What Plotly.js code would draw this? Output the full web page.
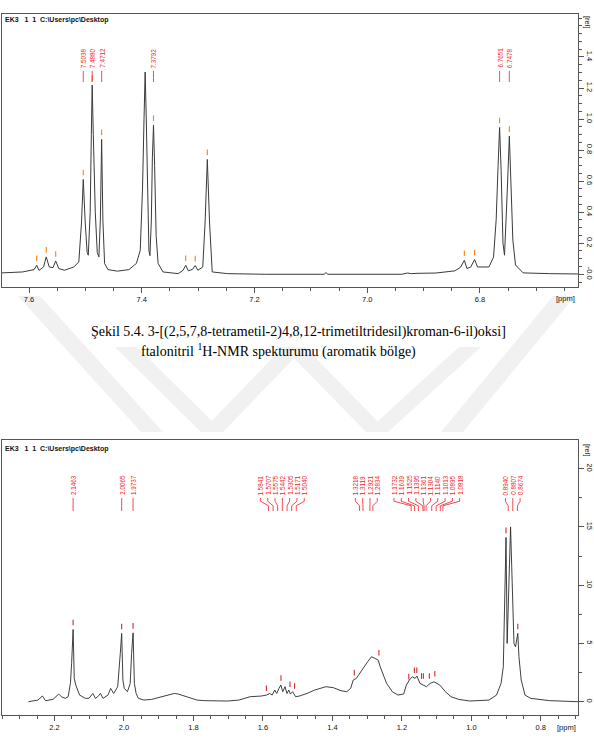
<!DOCTYPE html>
<html><head><meta charset="utf-8">
<script src="https://cdn.plot.ly/plotly-3.0.1.min.js"></script>
<style>html,body{margin:0;padding:0;background:#fff}#chart{width:594px;height:740px}</style>
</head><body><div id="chart"></div>
<script>
// ---------- DATA: aromatic region (top spectrum) ----------
const aromPpm = [7.6482,7.6112,7.5911,7.5864,7.5823,7.5743,7.5695,7.5642,7.5574,7.5527,7.5473,7.5373,7.5204,7.5117,7.5070,7.5038,7.5003,7.4969,7.4949,7.4915,7.4895,7.4880,7.4860,7.4825,7.4790,7.4761,7.4735,7.4712,7.4690,7.4660,7.4600,7.4431,7.4229,7.4095,7.4027,7.3987,7.3960,7.3940,7.3920,7.3893,7.3873,7.3855,7.3830,7.3812,7.3792,7.3772,7.3745,7.3710,7.3624,7.3355,7.3267,7.3220,7.3173,7.3099,7.3052,7.3005,7.2918,7.2877,7.2837,7.2797,7.2750,7.2481,7.1808,7.0765,7.0732,7.0698,7.0127,6.9386,6.9286,6.9218,6.9117,6.8782,6.8445,6.8344,6.8277,6.8230,6.8162,6.8095,6.8042,6.7840,6.7759,6.7712,6.7678,6.7651,6.7624,6.7591,6.7564,6.7537,6.7517,6.7478,6.7449,6.7416,6.7369,6.7234,6.6764,6.6259];
const aromInt = [0.009,0.015,0.03,0.058,0.025,0.047,0.112,0.047,0.043,0.086,0.037,0.026,0.047,0.08,0.33,0.611,0.33,0.14,0.123,0.4,0.9,1.219,0.9,0.4,0.14,0.112,0.35,0.869,0.35,0.07,0.03,0.02,0.03,0.07,0.155,0.55,1.0,1.303,1.0,0.4,0.15,0.12,0.35,0.75,0.961,0.7,0.25,0.07,0.015,0.004,0.026,0.058,0.022,0.032,0.056,0.026,0.047,0.33,0.74,0.33,0.015,0.004,0.0,0.0,0.011,0.0,0.0,0.0,0.008,0.004,0.006,0.008,0.022,0.045,0.09,0.037,0.047,0.095,0.047,0.047,0.11,0.35,0.7,0.946,0.67,0.2,0.123,0.33,0.52,0.89,0.55,0.22,0.06,0.009,0.004,0.002];
const aromLabelPpm = [7.5038,7.4880,7.4712,7.3792,6.7651,6.7478];
const aromMarkPpm = [7.5864,7.5695,7.5527,7.5038,7.4880,7.4712,7.3792,7.3220,7.3052,7.2837,6.8277,6.8095,6.7651,6.7478];
const aromMarkInt = [0.058,0.112,0.086,0.611,1.219,0.869,0.961,0.058,0.056,0.74,0.09,0.095,0.946,0.89];
const aromXTicks = [7.6,7.4,7.2,7.0,6.8];
const aromYTicks = [0,0.2,0.4,0.6,0.8,1.0,1.2,1.4];
const aromYTickText = ["-0.0","0.2","0.4","0.6","0.8","1.0","1.2","1.4"];

// ---------- DATA: aliphatic region (bottom spectrum) ----------
const aliPpm = [2.2751,2.2478,2.2347,2.2260,2.2041,2.1878,2.1801,2.1692,2.1605,2.1539,2.1506,2.1463,2.1430,2.1387,2.1277,2.1114,2.1005,2.0896,2.0819,2.0754,2.0677,2.0601,2.0459,2.0383,2.0295,2.0180,2.0105,2.0065,2.0030,1.9990,1.9900,1.9820,1.9780,1.9737,1.9700,1.9650,1.9586,1.9422,1.9204,1.8877,1.8549,1.8440,1.8222,1.7895,1.7676,1.7022,1.6694,1.6367,1.6040,1.5898,1.5800,1.5734,1.5658,1.5603,1.5538,1.5483,1.5429,1.5363,1.5308,1.5254,1.5210,1.5145,1.5058,1.4948,1.4730,1.4512,1.4185,1.3967,1.3748,1.3585,1.3475,1.3399,1.3312,1.3224,1.3115,1.2984,1.2875,1.2766,1.2679,1.2624,1.2548,1.2439,1.2275,1.2111,1.1948,1.1871,1.1784,1.1697,1.1620,1.1566,1.1479,1.1402,1.1293,1.1184,1.1075,1.0907,1.0747,1.0584,1.0365,1.0044,0.9493,0.9275,0.9145,0.9080,0.9034,0.9002,0.8969,0.8942,0.8893,0.8871,0.8838,0.8806,0.8773,0.8729,0.8696,0.8663,0.8630,0.8565,0.8456,0.8292,0.7747,0.6928];
const aliInt = [0,0.14,0.49,0.09,0.2,0.66,0.43,0.29,0.43,1.63,3.29,6.2,2.0,1.43,0.57,0.29,0.29,0.71,0.29,0.43,0.71,0.29,0.57,1.14,0.71,1.29,4.14,5.86,1.86,1.14,0.86,1.57,4.14,5.91,1.57,0.71,0.29,0.14,0.2,0.43,0.71,0.66,0.43,0.14,0.09,0.06,0.14,0.43,0.49,0.57,0.71,0.57,1.0,0.71,1.14,1.43,0.86,1.29,0.71,1.0,0.66,0.86,0.43,0.49,0.71,1.0,1.29,1.2,0.94,0.86,1.14,1.86,2.0,2.43,2.86,3.43,3.86,3.71,3.57,3.0,2.43,1.57,0.86,0.57,0.66,1.43,1.86,2.14,2.0,2.2,1.57,1.43,1.29,1.57,1.71,1.43,0.86,0.43,0.2,0.06,0.14,0.57,1.57,3.0,8.7,14.1,5.0,8.14,14.4,15.0,11.6,7.86,5.0,4.71,5.57,5.86,3.86,1.86,0.57,0.29,0.09,0];
const aliLabelPpm = [2.1463,2.0065,1.9737,1.5841,1.5707,1.5575,1.5442,1.5305,1.5171,1.5040,1.3218,1.3119,1.2921,1.2834,1.1732,1.1639,1.1525,1.1395,1.1361,1.1304,1.1140,1.1013,1.0895,1.0818,0.8940,0.8807,0.8674];
const aliMarkPpm = [2.1463,2.0065,1.9737,1.590,1.548,1.522,1.509,1.337,1.266,1.180,1.164,1.157,1.1435,1.138,1.121,1.105,0.9002,0.8663];
const aliMarkInt = [6.2,5.86,5.91,0.55,1.43,0.9,0.75,1.9,3.6,1.55,2.1,2.1,1.6,1.6,1.6,1.8,14.1,5.86];
const aliXTicks = [2.2,2.0,1.8,1.6,1.4,1.2,1.0,0.8];
const aliYTicks = [0,5,10,15,20];

const headerText = "EK3\u00A0\u00A0 1\u00A0\u00A01\u00A0\u00A0C:\\Users\\pc\\Desktop";
const captionLine1 = "Şekil 5.4. 3-[(2,5,7,8-tetrametil-2)4,8,12-trimetiltridesil)kroman-6-il)oksi]";
const captionLine2 = "ftalonitril <sup>1</sup>H-NMR spekturumu (aromatik bölge)";

// ---------- LAYOUT GEOMETRY ----------
const W = 594, H = 740;
const P1 = {x0:2, x1:578, y0:14, y1:287, xr:[7.648, 6.626], yr:[-0.082, 1.677]};
const P2 = {x0:2, x1:578, y0:440, y1:715, xr:[2.351, 0.693], yr:[-1.14, 22.46]};
const RED = '#ee1c24';
const AX = '#555';

function xToPx(P, v){ return P.x0 + (P.xr[0]-v)/(P.xr[0]-P.xr[1])*(P.x1-P.x0); }
function pxPerY(P){ return (P.y1-P.y0)/(P.yr[1]-P.yr[0]); }
const fx = px => px/W, fy = py => 1 - py/H;

function spread(px, gap){
  const idx = px.map((v,i)=>i).sort((a,b)=>px[a]-px[b]);
  let clusters = idx.map(i=>({items:[i], center:px[i]}));
  let changed = true;
  while(changed){
    changed = false;
    for(let k=0;k<clusters.length-1;k++){
      const a = clusters[k], b = clusters[k+1];
      const aEnd = a.center + (a.items.length-1)/2*gap;
      const bStart = b.center - (b.items.length-1)/2*gap;
      if(bStart - aEnd < gap - 1e-9){
        const items = a.items.concat(b.items);
        const center = items.reduce((s,i)=>s+px[i],0)/items.length;
        clusters.splice(k,2,{items, center});
        changed = true; break;
      }
    }
  }
  const out = new Array(px.length);
  clusters.forEach(c=>c.items.forEach((i,j)=>{ out[i] = c.center + (j-(c.items.length-1)/2)*gap; }));
  return out;
}

const annotations = [], shapes = [];

// faint watermark bands (page background)
const wmBands = [[29,296,152,432],[126,347,212,432],[294,347,212,432],[294,347,377,432],[470,347,377,432],[564,296,452,432]];
wmBands.forEach(b=>{
  const w = 11;
  shapes.push({type:'path', xref:'paper', yref:'paper', layer:'below', line:{width:0}, fillcolor:'#f1f1f1',
    path:`M ${fx(b[0]-w)},${fy(b[1])} L ${fx(b[0]+w)},${fy(b[1])} L ${fx(b[2]+w)},${fy(b[3])} L ${fx(b[2]-w)},${fy(b[3])} Z`});
});

function addLabels(P, ppms, textBottom, lineTop, lineBottom){
  const nat = ppms.map(v=>xToPx(P,v));
  const lab = spread(nat, 7.3);
  ppms.forEach((v,i)=>{
    annotations.push({xref:'paper', yref:'paper', x:fx(lab[i]), y:fy(textBottom), xanchor:'center', yanchor:'bottom',
      text:v.toFixed(4), textangle:-90, showarrow:false, font:{family:'Liberation Sans, Arial', size:6.3, color:RED}});
    const a = lineTop, d = lineBottom, b = a + (d-a)*0.25, c = a + (d-a)*0.6;
    shapes.push({type:'path', xref:'paper', yref:'paper',
      path:`M ${fx(lab[i])},${fy(a)} L ${fx(lab[i])},${fy(b)} L ${fx(nat[i])},${fy(c)} L ${fx(nat[i])},${fy(d)}`,
      line:{color:RED, width:0.8}});
  });
}
addLabels(P1, aromLabelPpm, 70, 71, 82);
addLabels(P2, aliLabelPpm, 497, 498, 511);

const tickFont = {family:'Liberation Sans, Arial', size:7.5, color:'#111'};
function txt(x, y, text, opts){
  annotations.push(Object.assign({xref:'paper', yref:'paper', x:fx(x), y:fy(y), text, showarrow:false,
    xanchor:'center', yanchor:'middle', font:tickFont}, opts||{}));
}
const hdrFont = {family:'Liberation Sans, Arial', size:7, color:'#111', weight:'bold'};
txt(3, 20.5, headerText, {xanchor:'left', font:hdrFont});
txt(3, 448.5, headerText, {xanchor:'left', font:hdrFont});
txt(588, 22, '[rel]', {textangle:90});
txt(588, 450, '[rel]', {textangle:90});
txt(565, 298, '[ppm]');
txt(566, 727, '[ppm]');
const capFont = {family:'Liberation Serif, Times New Roman', size:14, color:'#000'};
txt(298, 332, captionLine1, {font:capFont});
txt(278, 350, captionLine2, {font:capFont});

function axisBase(){
  return {showline:true, linecolor:AX, linewidth:1, mirror:true, ticks:'outside', ticklen:5, tickcolor:AX, tickwidth:1,
    showgrid:false, zeroline:false, tickfont:tickFont, fixedrange:true};
}
const layout = {
  width:W, height:H, margin:{l:0,r:0,t:0,b:0}, showlegend:false,
  paper_bgcolor:'#fff', plot_bgcolor:'rgba(0,0,0,0)',
  xaxis: Object.assign(axisBase(), {domain:[P1.x0/W, P1.x1/W], range:P1.xr, anchor:'y',
    tickmode:'array', tickvals:aromXTicks, ticktext:aromXTicks.map(v=>v.toFixed(1)),
    minor:{tickmode:'linear', tick0:0, dtick:0.05, ticks:'outside', ticklen:3, tickcolor:AX}}),
  yaxis: Object.assign(axisBase(), {domain:[1-P1.y1/H, 1-P1.y0/H], range:P1.yr, anchor:'x', side:'right',
    tickmode:'array', tickvals:aromYTicks, ticktext:aromYTickText, tickangle:90,
    minor:{tickmode:'linear', tick0:0, dtick:0.05, ticks:'outside', ticklen:3, tickcolor:AX}}),
  xaxis2: Object.assign(axisBase(), {domain:[P2.x0/W, P2.x1/W], range:P2.xr, anchor:'y2',
    tickmode:'array', tickvals:aliXTicks, ticktext:aliXTicks.map(v=>v.toFixed(1)),
    minor:{tickmode:'linear', tick0:0, dtick:0.05, ticks:'outside', ticklen:3, tickcolor:AX}}),
  yaxis2: Object.assign(axisBase(), {domain:[1-P2.y1/H, 1-P2.y0/H], range:P2.yr, anchor:'x2', side:'right',
    tickmode:'array', tickvals:aliYTicks, ticktext:aliYTicks.map(String), tickangle:90,
    minor:{tickmode:'linear', tick0:0, dtick:2.5, ticks:'outside', ticklen:3, tickcolor:AX}}),
  annotations, shapes
};

const markOff1 = 7/pxPerY(P1), markOff2 = 7/pxPerY(P2);
const data = [
  {type:'scatter', mode:'lines', x:aromPpm, y:aromInt, xaxis:'x', yaxis:'y', line:{color:'#3a3a3a', width:1}, hoverinfo:'skip'},
  {type:'scatter', mode:'markers', x:aromMarkPpm, y:aromMarkInt.map(v=>v+markOff1), xaxis:'x', yaxis:'y',
    marker:{symbol:'line-ns-open', size:4, line:{color:RED, width:1.1}}, hoverinfo:'skip'},
  {type:'scatter', mode:'lines', x:aliPpm, y:aliInt, xaxis:'x2', yaxis:'y2', line:{color:'#2a2a2a', width:0.9}, hoverinfo:'skip'},
  {type:'scatter', mode:'markers', x:aliMarkPpm, y:aliMarkInt.map(v=>v+markOff2), xaxis:'x2', yaxis:'y2',
    marker:{symbol:'line-ns-open', size:4, line:{color:RED, width:1.1}}, hoverinfo:'skip'}
];
Plotly.newPlot('chart', data, layout, {staticPlot:true, displayModeBar:false});
</script>
</body></html>
